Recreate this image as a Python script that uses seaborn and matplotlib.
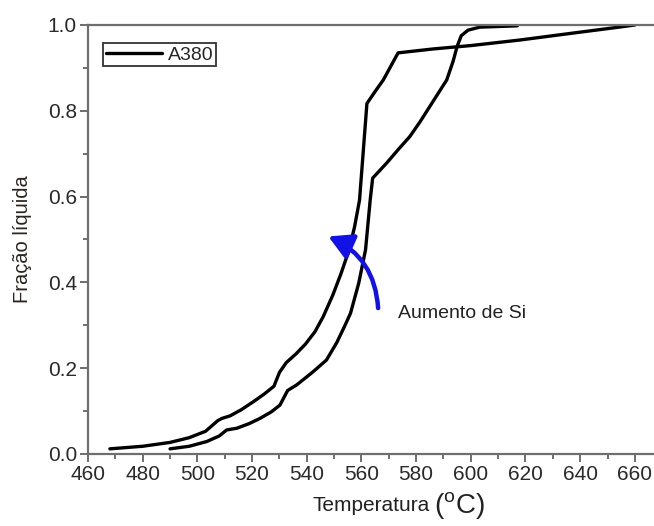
"""Liquid fraction vs temperature for A380 alloy (two Si levels)."""

import matplotlib
matplotlib.use("Agg")
import matplotlib.pyplot as plt
import matplotlib.ticker as mticker
import seaborn as sns

# Data
temp_low_si = [468, 480, 490, 497, 503, 507.5, 509, 512, 516, 520.5, 524.5, 528,
               530, 532.5, 536, 539.5, 543, 546, 549.5, 552.5, 555.5, 557.5, 559.3,
               560.6, 562, 565, 568, 573.4, 586, 600, 618, 636, 653, 660]
frac_low_si = [0.012, 0.018, 0.027, 0.038, 0.053, 0.078, 0.083, 0.089, 0.103, 0.122,
               0.14, 0.158, 0.19, 0.213, 0.233, 0.256, 0.285, 0.32, 0.37, 0.42, 0.476,
               0.53, 0.592, 0.7, 0.817, 0.845, 0.872, 0.935, 0.944, 0.952, 0.965,
               0.98, 0.994, 1.0]

temp_high_si = [490, 497, 503.4, 508, 510.7, 514.4, 519, 522.9, 527, 530.2, 533,
                536.3, 542, 547.2, 551, 554, 556, 559, 561.5, 563.2, 564.1, 569.2,
                573.5, 577.7, 581.5, 585, 588, 591.2, 593.5, 595, 596.5, 599,
                603.3, 617]
frac_high_si = [0.012, 0.018, 0.029, 0.042, 0.056, 0.06, 0.071, 0.083, 0.098, 0.114,
                0.148, 0.161, 0.19, 0.219, 0.26, 0.3, 0.328, 0.398, 0.476, 0.592,
                0.643, 0.678, 0.71, 0.74, 0.775, 0.81, 0.84, 0.872, 0.915, 0.95,
                0.975, 0.988, 0.995, 0.998]

legend_label = "A380"
arrow_start = (566.1, 0.34)
arrow_end = (547.9, 0.507)
note_pos = (573.3, 0.328)
note_text = "Aumento de Si"

sns.set_style("ticks")
plt.rcParams["font.family"] = ["Liberation Sans", "DejaVu Sans"]

fig = plt.figure(figsize=(6.54, 5.26), dpi=100)
ax = fig.add_axes([0.1346, 0.1369, 0.8654, 0.8156])

sns.lineplot(x=temp_low_si, y=frac_low_si, sort=False, color="black",
             linewidth=2.4, label=legend_label, ax=ax)
sns.lineplot(x=temp_high_si, y=frac_high_si, sort=False, color="black",
             linewidth=2.4, ax=ax)

ax.set_xlim(460, 667)
ax.set_ylim(0, 1.0)
ax.xaxis.set_major_locator(mticker.MultipleLocator(20))
ax.xaxis.set_minor_locator(mticker.MultipleLocator(10))
ax.yaxis.set_major_locator(mticker.MultipleLocator(0.2))
ax.yaxis.set_minor_locator(mticker.MultipleLocator(0.1))
ax.yaxis.set_major_formatter(mticker.FormatStrFormatter("%.1f"))

spine_col = "#6e6e6e"
for side in ["left", "bottom", "top"]:
    ax.spines[side].set_color(spine_col)
    ax.spines[side].set_linewidth(1.6)
ax.spines["right"].set_visible(False)
ax.tick_params(which="major", direction="out", length=6, width=1.4,
               color=spine_col, labelsize=15, labelcolor="#2a2a2a", pad=2)
ax.tick_params(which="minor", direction="out", length=3.5, width=1.4,
               color=spine_col)
ax.tick_params(top=False, right=False, which="both")

ax.set_ylabel("Fração líquida", fontsize=14.5, color="#2b2320", labelpad=11)
ax.set_xlabel("Temperatura", fontsize=15, color="#222222")
ax.xaxis.set_label_coords(0.5, -0.097)
ax.annotate(r"($\mathregular{^o}$C)", xy=(1.0, 0.5), xycoords=ax.xaxis.label,
            xytext=(3, 0), textcoords="offset points", ha="left", va="center",
            fontsize=20, color="#222222")

ax.annotate("", xy=arrow_end, xytext=arrow_start,
            arrowprops=dict(arrowstyle="-|>,head_length=0.9,head_width=0.5",
                            connectionstyle="arc3,rad=0.3", color="#1212e6",
                            lw=3.2, mutation_scale=16, shrinkA=0, shrinkB=0))
ax.text(note_pos[0], note_pos[1], note_text, fontsize=14, color="#222222",
        ha="left", va="center")

leg = ax.legend(loc="upper left", bbox_to_anchor=(0.026, 0.958),
                borderaxespad=0, fontsize=14, handlelength=2.9,
                handletextpad=0.3, borderpad=0.15, fancybox=False,
                framealpha=1, edgecolor="#333333")
leg.get_frame().set_linewidth(1.3)

fig.savefig("out.png", dpi=100)
